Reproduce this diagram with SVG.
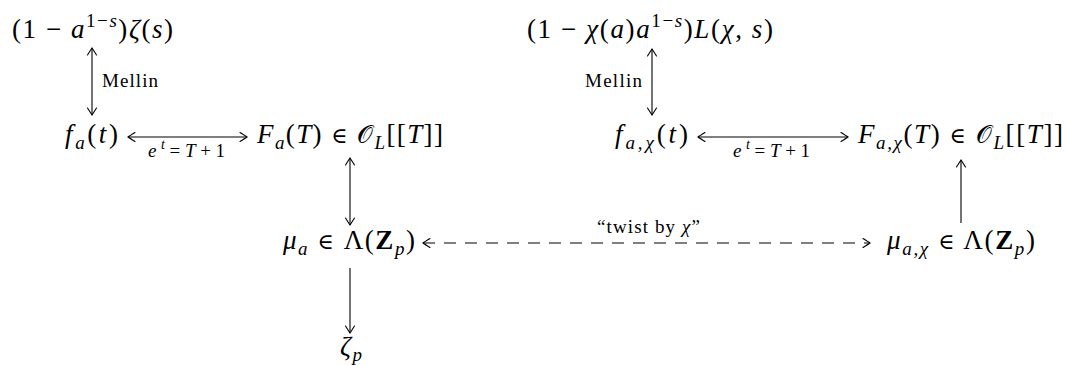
<svg xmlns="http://www.w3.org/2000/svg" width="1065" height="365" viewBox="0 0 1065 365">
<style>
text { font-family: "Liberation Serif", "Times New Roman", serif; fill: #000; }
.m { font-size: 27px; }
.l { font-size: 19px; }
.i { font-style: italic; }
.b { font-weight: bold; }
.s { font-size: 19px; }
.ss { font-size: 14px; }
.cal { font-family: "DejaVu Serif", "DejaVu Sans", "Noto Sans", serif; font-size: 25px; }
.el { font-family: "DejaVu Serif", serif; font-size: 22px; }
.a { fill: none; stroke: #000; stroke-width: 1.1; }
.d { stroke-dasharray: 12 9; }
</style>
<defs>
<marker id="h" viewBox="-8 -6 10 12" markerWidth="10" markerHeight="12" refX="0" refY="0" orient="auto-start-reverse" markerUnits="userSpaceOnUse">
<path d="M -7,-4.5 Q -1.5,-1 0,0 Q -1.5,1 -7,4.5" fill="none" stroke="#000" stroke-width="1.1" stroke-linecap="round"/>
</marker>
</defs>
<g id="connectors">
<path class="a" d="M 92,48 V 115" marker-start="url(#h)" marker-end="url(#h)"/>
<path class="a" d="M 652,49 V 115" marker-start="url(#h)" marker-end="url(#h)"/>
<path class="a" d="M 128,137 H 247" marker-start="url(#h)" marker-end="url(#h)"/>
<path class="a" d="M 698,137 H 848" marker-start="url(#h)" marker-end="url(#h)"/>
<path class="a" d="M 350,158 V 225" marker-start="url(#h)" marker-end="url(#h)"/>
<path class="a" d="M 961,223 V 160" marker-end="url(#h)"/>
<path class="a" d="M 350,268 V 333" marker-end="url(#h)"/>
<path class="a d" d="M 423,243 H 870" marker-start="url(#h)" marker-end="url(#h)"/>
</g>
<g id="labels">
<text class="l" x="102" y="87" textLength="56" lengthAdjust="spacing">Mellin</text>
<text class="l" x="585" y="87" textLength="57" lengthAdjust="spacing">Mellin</text>
<text class="l" x="148" y="157" textLength="77" lengthAdjust="spacing"><tspan class="i">e</tspan><tspan class="i ss" dy="-8">t</tspan><tspan dy="8">=</tspan><tspan class="i">T</tspan>+1</text>
<text class="l" x="733" y="157" textLength="77" lengthAdjust="spacing"><tspan class="i">e</tspan><tspan class="i ss" dy="-8">t</tspan><tspan dy="8">=</tspan><tspan class="i">T</tspan>+1</text>
<text class="l" x="597" y="233" textLength="103" lengthAdjust="spacing">“twist by <tspan class="i">χ</tspan>”</text>
</g>
<g id="zeta">
<text class="m" x="12" y="38" textLength="161" lengthAdjust="spacing">(1 − <tspan class="i">a</tspan><tspan class="s" dy="-11">1−<tspan class="i">s</tspan></tspan><tspan dy="11">)</tspan><tspan class="i">ζ</tspan>(<tspan class="i">s</tspan>)</text>
</g>
<g id="lfunc">
<text class="m" x="527" y="38" textLength="246" lengthAdjust="spacing">(1 − <tspan class="i">χ</tspan>(<tspan class="i">a</tspan>)<tspan class="i">a</tspan><tspan class="s" dy="-11">1−<tspan class="i">s</tspan></tspan><tspan dy="11">)</tspan><tspan class="i">L</tspan>(<tspan class="i">χ</tspan>, <tspan class="i">s</tspan>)</text>
</g>
<g id="fa">
<text class="m" x="65" y="143" textLength="53" lengthAdjust="spacing"><tspan class="i">f</tspan><tspan class="i s" dy="6">a</tspan><tspan dy="-6">(</tspan><tspan class="i">t</tspan>)</text>
</g>
<g id="Fa">
<text class="m" x="257" y="143" textLength="186" lengthAdjust="spacing"><tspan class="i">F</tspan><tspan class="i s" dy="6">a</tspan><tspan dy="-6">(</tspan><tspan class="i">T</tspan>) <tspan class="el">∈</tspan> <tspan class="cal">𝒪</tspan><tspan class="i s" dy="6">L</tspan><tspan dy="-6">[[</tspan><tspan class="i">T</tspan>]]</text>
</g>
<g id="fachi">
<text class="m" x="615" y="143" textLength="73" lengthAdjust="spacing"><tspan class="i">f</tspan><tspan class="i s" dy="6">a,χ</tspan><tspan dy="-6">(</tspan><tspan class="i">t</tspan>)</text>
</g>
<g id="Fachi">
<text class="m" x="858" y="143" textLength="205" lengthAdjust="spacing"><tspan class="i">F</tspan><tspan class="i s" dy="6">a,χ</tspan><tspan dy="-6">(</tspan><tspan class="i">T</tspan>) <tspan class="el">∈</tspan> <tspan class="cal">𝒪</tspan><tspan class="i s" dy="6">L</tspan><tspan dy="-6">[[</tspan><tspan class="i">T</tspan>]]</text>
</g>
<g id="mua">
<text class="m" x="283" y="249" textLength="132" lengthAdjust="spacing"><tspan class="i">μ</tspan><tspan class="i s" dy="6">a</tspan><tspan dy="-6"> </tspan><tspan class="el">∈</tspan> Λ(<tspan class="b">Z</tspan><tspan class="i s" dy="6">p</tspan><tspan dy="-6">)</tspan></text>
</g>
<g id="muachi">
<text class="m" x="887" y="249" textLength="148" lengthAdjust="spacing"><tspan class="i">μ</tspan><tspan class="i s" dy="6">a,χ</tspan><tspan dy="-6"> </tspan><tspan class="el">∈</tspan> Λ(<tspan class="b">Z</tspan><tspan class="i s" dy="6">p</tspan><tspan dy="-6">)</tspan></text>
</g>
<g id="zetap">
<text class="m" x="340" y="355" textLength="22" lengthAdjust="spacing"><tspan class="i">ζ</tspan><tspan class="i s" dy="6">p</tspan></text>
</g>
</svg>
